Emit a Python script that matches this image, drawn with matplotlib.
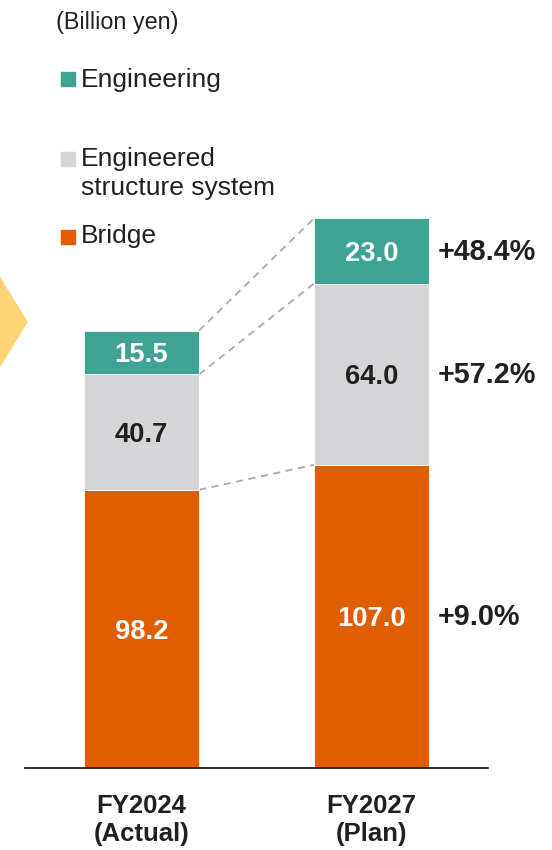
import matplotlib
matplotlib.use("Agg")
import matplotlib.pyplot as plt
from matplotlib.patches import Rectangle, Polygon
import numpy as np

plt.rcParams['font.family'] = ['Liberation Sans', 'DejaVu Sans']

categories = ["FY2024\n(Actual)", "FY2027\n(Plan)"]
series_names = ["Bridge", "Engineered\nstructure system", "Engineering"]
bridge = [98.2, 107.0]
ecs = [40.7, 64.0]
engineering = [15.5, 23.0]
growth = ["+9.0%", "+57.2%", "+48.4%"]
unit_label = "(Billion yen)"

colors = ["#E05D00", "#D5D5D7", "#3EA395"]
label_colors = ["white", "#231F20", "white"]
TXT = "#231F20"

W, H = 552, 850
fig = plt.figure(figsize=(W / 100, H / 100), dpi=100)

def fx(px):
    return px / W

def fy(py):
    return 1 - py / H

# axes: baseline at y=768px, x from 25 to 488 px
y0_px, ymax = 768, 220.0
scale = 2.833
ax_h_px = ymax * scale
ax = fig.add_axes([fx(25), fy(y0_px), (488 - 25) / W, ax_h_px / H])
ax.set_xlim(-0.507, 1.507)
ax.set_ylim(0, ymax)
for s in ["top", "right", "left"]:
    ax.spines[s].set_visible(False)
ax.spines["bottom"].set_color("#231F20")
ax.spines["bottom"].set_linewidth(1.3)
ax.set_yticks([])
ax.set_xticks([])

VFS = 19.7   # value labels
PFS = 20.7   # growth labels
CFS = 18.5   # category labels

def centered_label(xv, yv, s, fs, **kw):
    # vertically centre on the cap height
    ax.annotate(s, (xv, yv), xytext=(0, -0.358 * fs), textcoords="offset points",
                va="baseline", fontsize=fs, fontweight="bold", annotation_clip=False, **kw)

x = np.arange(len(categories))
width = 0.5
series = [bridge, ecs, engineering]
bottoms = np.zeros(len(categories))
tops = []
for vals, col, lc in zip(series, colors, label_colors):
    vals = np.array(vals)
    ax.bar(x, vals, width, bottom=bottoms, color=col, edgecolor="white",
           linewidth=0.6, zorder=2)
    for xi, v, b in zip(x, vals, bottoms):
        centered_label(xi, b + v / 2, f"{v:.1f}", VFS, ha="center", color=lc, zorder=3)
    bottoms = bottoms + vals
    tops.append(bottoms.copy())

# dashed connectors
for t in tops:
    ax.plot([x[0] + width / 2, x[1] - width / 2], [t[0], t[1]],
            ls=(0, (4, 3)), color="#AAAAAA", lw=1.3, zorder=1)

# growth labels
starts = [0.0] + [t[1] for t in tops[:-1]]
for g, b, t in zip(growth, starts, [t[1] for t in tops]):
    centered_label(x[1] + 0.289, (b + t) / 2 + 0.6, g, PFS, ha="left", color=TXT)

# category labels (two lines, baselines at 813 and 841 px)
for xi, c in zip(x, categories):
    l1, l2 = c.split("\n")
    ax.annotate(l1, (xi, 0), xytext=(0, -(813 - 768) * 0.72), textcoords="offset points",
                ha="center", va="baseline", fontsize=CFS, fontweight="bold", color=TXT,
                annotation_clip=False)
    ax.annotate(l2, (xi, 0), xytext=(0, -(841 - 768) * 0.72), textcoords="offset points",
                ha="center", va="baseline", fontsize=CFS, fontweight="bold", color=TXT,
                annotation_clip=False)

# unit label
fig.text(fx(56), fy(29), unit_label, ha="left", va="baseline", color=TXT,
         fontsize=16.8)

# legend
LFS = 19
leg_items = [(series_names[2], colors[2], 72, [87]),
             (series_names[1], colors[1], 152, [166, 195]),
             (series_names[0], colors[0], 230, [243])]
for name, col, sq_top, baselines in leg_items:
    fig.patches.append(Rectangle((fx(61), fy(sq_top + 14)), 14 / W, 14 / H,
                                 transform=fig.transFigure, color=col))
    for line, bl in zip(name.split("\n"), baselines):
        fig.text(fx(81), fy(bl), line, ha="left", va="baseline", color=TXT,
                 fontsize=LFS)

# chevron at left edge
fig.patches.append(Polygon([(fx(-5), fy(270)), (fx(27), fy(322)),
                            (fx(-5), fy(374))], closed=True,
                           transform=fig.transFigure, color="#FDD373"))

fig.savefig("out.png", dpi=100)
